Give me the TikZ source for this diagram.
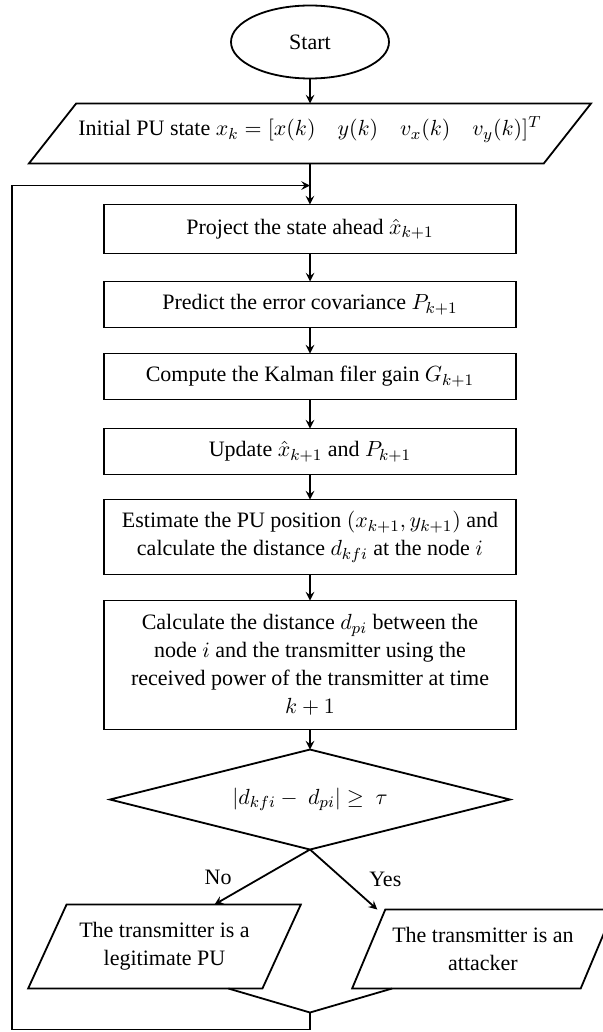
\documentclass[tikz,border=0pt]{standalone}
\usepackage{fontspec}
\setmainfont{Liberation Serif}
\usetikzlibrary{positioning, shapes.geometric, arrows.meta}

\begin{document}
\begin{tikzpicture}[
			x=0.5pt, y=-0.5pt,
			font=\fontsize{11}{14}\selectfont,
			line width=0.9pt,
			every node/.style={outer sep=0pt},
			term/.style={draw, ellipse, minimum width=79pt, minimum height=36.5pt, inner sep=0pt},
			stepbox/.style={draw, rectangle, align=center, minimum width=206pt, minimum height=23pt, inner sep=3pt},
			io/.style={draw, trapezium, trapezium left angle=58, trapezium right angle=122, trapezium stretches=true, align=center, inner sep=2pt},
			decide/.style={draw, diamond, aspect=4, minimum width=200pt, minimum height=50pt, inner sep=0pt},
			arr/.style={->, >=stealth},
		]
			\useasboundingbox (0,0) rectangle (602,1032);

			\node[term] (start) at (310,42) {Start};
			\node[io, trapezium left angle=38, trapezium right angle=142, minimum width=281.5pt, minimum height=30pt, inner sep=1pt, text depth=7pt, below=12.5pt of start] (init)
				{Initial PU state $x_k = [x(k)\quad y(k)\quad v_x(k)\quad v_y(k)]^T$};
			\node[stepbox, minimum height=24.5pt, below=20.5pt of init] (project) {Project the state ahead $\hat{x}_{k+1}$};
			\node[stepbox, below=14pt of project] (predict) {Predict the error covariance $P_{k+1}$};
			\node[stepbox, below=13pt of predict] (gain) {Compute the Kalman filer gain $G_{k+1}$};
			\node[stepbox, below=14.5pt of gain] (update) {Update $\hat{x}_{k+1}$ and $P_{k+1}$};
			\node[stepbox, minimum height=37.5pt, below=12.5pt of update] (estimate)
				{Estimate the PU position $(x_{k+1}, y_{k+1})$ and\\calculate the distance $d_{kfi}$ at the node $i$};
			\node[stepbox, minimum height=64.5pt, below=13pt of estimate] (distance)
				{Calculate the distance $d_{pi}$ between the\\node $i$ and the transmitter using the\\received power of the transmitter at time\\$k+1$};
			\node[decide, below=10pt of distance] (check) {$|d_{kfi} -\ d_{pi}| \geq\ \tau$};
			\node[io, minimum width=136.5pt, minimum height=42pt, below=27.5pt of check.south, xshift=-72.75pt] (legit)
				{The transmitter is a\\legitimate PU};
			\node[io, minimum width=131pt, minimum height=39.5pt, below=30pt of check.south, xshift=86.5pt] (attack)
				{The transmitter is an\\attacker};

			% loop back points
			\coordinate[below=11pt of init.south] (join);
			\coordinate[below=81.5pt of check.south] (merge);
			\coordinate[below=8.5pt of merge] (bend);
			\coordinate[left=149pt of bend] (loopbl);

			\draw[arr] (start) -- (init);
			\draw[arr] (init) -- (project);
			\draw[arr] (project) -- (predict);
			\draw[arr] (predict) -- (gain);
			\draw[arr] (gain) -- (update);
			\draw[arr] (update) -- (estimate);
			\draw[arr] (estimate) -- (distance);
			\draw[arr] (distance) -- (check);
			\draw[arr] (check.south) -- ([xshift=25pt]legit.north) node[midway, left=12pt] {No};
			\draw[arr] (check.south) -- ([xshift=-4pt]attack.top left corner) node[midway, right=9.5pt] {Yes};
			\draw ([xshift=-17pt]legit.bottom right corner) -- (merge);
			\draw ([xshift=20pt]attack.bottom left corner) -- (merge);
			\draw[arr] (merge) -- (bend) -- (loopbl) |- (join);
		\end{tikzpicture}
\end{document}
